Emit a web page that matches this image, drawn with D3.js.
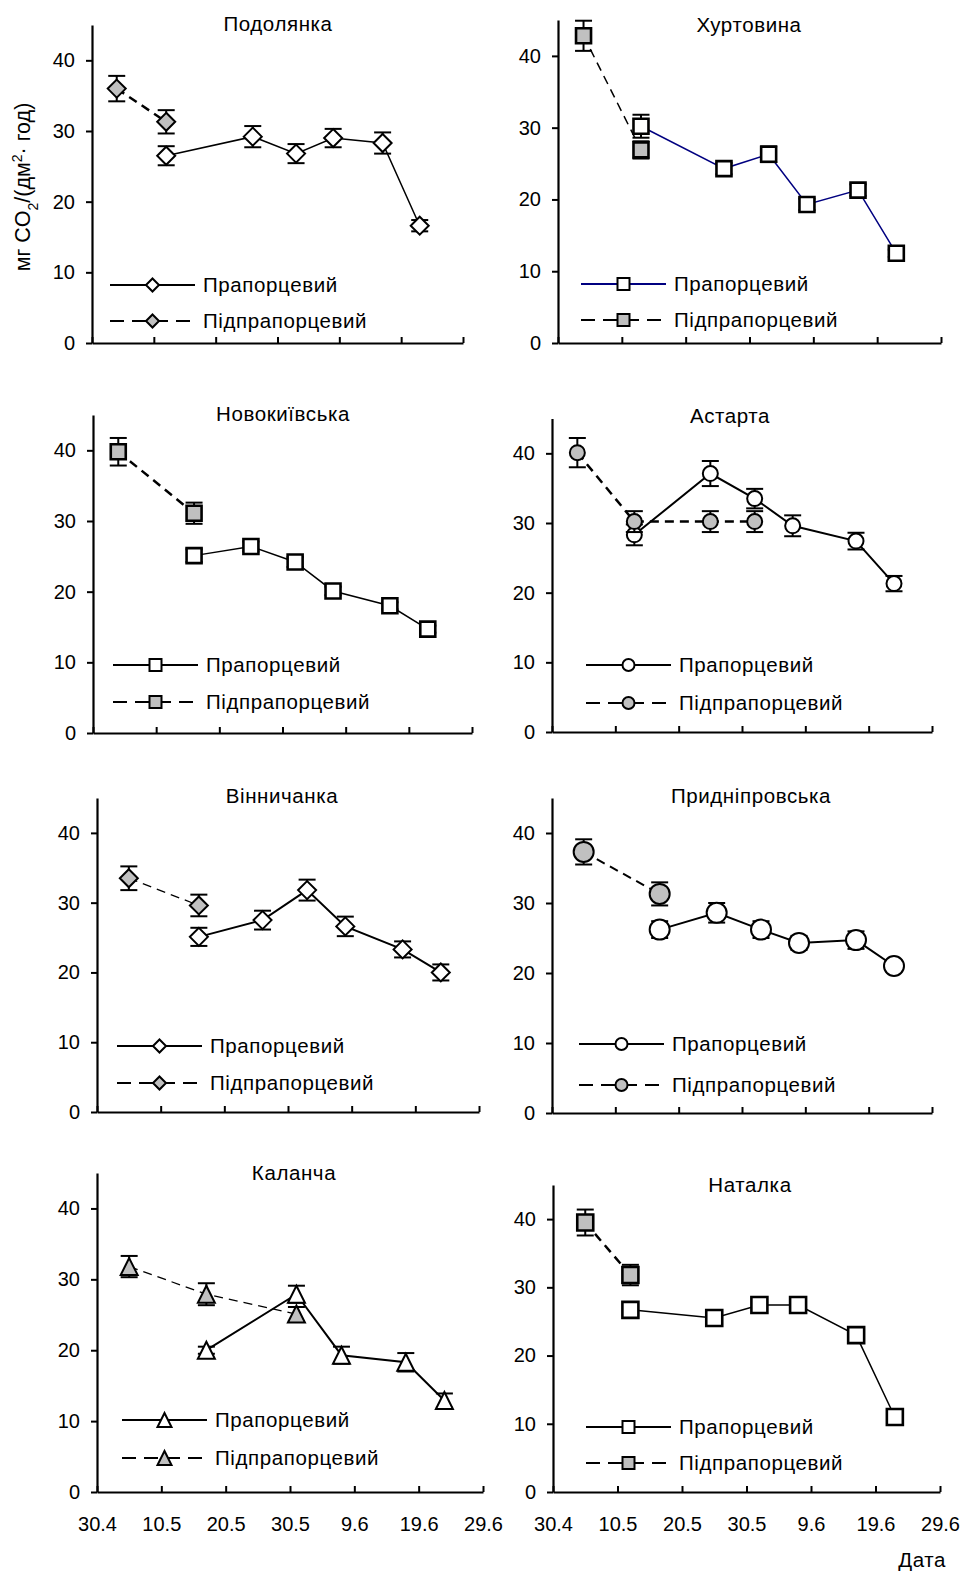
<!DOCTYPE html>
<html>
<head>
<meta charset="utf-8">
<script src="https://cdn.jsdelivr.net/npm/d3@7"></script>
<style>
  body { margin: 0; background: #fff; }
  text { font-family: "Liberation Sans", Arial, sans-serif; fill: #000; }
</style>
</head>
<body>
<script>
// ---- data ----
var tickDays = ["30.4", "10.5", "20.5", "30.5", "9.6", "19.6", "29.6"];
var yTicks = [0, 10, 20, 30, 40];
var varieties = ["Подолянка", "Хуртовина", "Новокиївська", "Астарта",
                 "Вінничанка", "Придніпровська", "Каланча", "Наталка"];
var seriesNames = ["Прапорцевий", "Підпрапорцевий"];

// Подолянка
var podFlagDates = ["12.5", "26.5", "2.6", "8.6", "16.6", "22.6"];
var podFlagValues = [26.5, 29.2, 26.8, 29.0, 28.3, 16.6];
var podFlagErrors = [1.35, 1.5, 1.35, 1.3, 1.5, 0.8];
var podSubDates = ["4.5", "12.5"];
var podSubValues = [36.0, 31.3];
var podSubErrors = [1.8, 1.65];

// Хуртовина
var khuFlagDates = ["13.5", "26.5", "2.6", "8.6", "16.6", "22.6"];
var khuFlagValues = [30.2, 24.3, 26.3, 19.3, 21.3, 12.5];
var khuFlagErrors = [1.6, 0.8, 1.1, 0.8, 0.8, 0.5];
var khuSubDates = ["4.5", "13.5"];
var khuSubValues = [42.8, 26.9];
var khuSubErrors = [2.1, 1.2];

// Новокиївська
var novFlagDates = ["16.5", "25.5", "1.6", "7.6", "16.6", "22.6"];
var novFlagValues = [25.1, 26.4, 24.2, 20.1, 18.0, 14.7];
var novFlagErrors = [0.9, 0.7, 0.7, 0.6, 0.5, 0.5];
var novSubDates = ["4.5", "16.5"];
var novSubValues = [39.8, 31.1];
var novSubErrors = [1.95, 1.5];

// Астарта
var astFlagDates = ["13.5", "25.5", "1.6", "7.6", "17.6", "23.6"];
var astFlagValues = [28.3, 37.1, 33.5, 29.6, 27.4, 21.3];
var astFlagErrors = [1.5, 1.8, 1.4, 1.5, 1.2, 1.1];
var astSubDates = ["4.5", "13.5", "25.5", "1.6"];
var astSubValues = [40.1, 30.2, 30.2, 30.2];
var astSubErrors = [2.1, 1.5, 1.5, 1.5];

// Вінничанка
var vinFlagDates = ["16.5", "26.5", "2.6", "8.6", "17.6", "23.6"];
var vinFlagValues = [25.1, 27.5, 31.8, 26.6, 23.3, 20.0];
var vinFlagErrors = [1.3, 1.35, 1.5, 1.4, 1.15, 1.15];
var vinSubDates = ["5.5", "16.5"];
var vinSubValues = [33.5, 29.6];
var vinSubErrors = [1.7, 1.55];

// Придніпровська
var priFlagDates = ["17.5", "26.5", "2.6", "8.6", "17.6", "23.6"];
var priFlagValues = [26.2, 28.6, 26.2, 24.3, 24.7, 21.0];
var priFlagErrors = [1.2, 1.4, 1.2, 1.0, 1.25, 0.8];
var priSubDates = ["5.5", "17.5"];
var priSubValues = [37.3, 31.3];
var priSubErrors = [1.8, 1.65];

// Каланча
var kalFlagDates = ["17.5", "31.5", "7.6", "17.6", "23.6"];
var kalFlagValues = [20.0, 27.9, 19.3, 18.3, 12.9];
var kalFlagErrors = [0.5, 1.2, 1.2, 1.3, 1.0];
var kalSubDates = ["5.5", "17.5", "31.5"];
var kalSubValues = [31.8, 27.9, 25.1];
var kalSubErrors = [1.5, 1.55, 1.0];

// Наталка
var natFlagDates = ["12.5", "25.5", "1.6", "7.6", "16.6", "22.6"];
var natFlagValues = [26.7, 25.5, 27.4, 27.4, 23.0, 11.0];
var natFlagErrors = [0.9, 0.8, 1.0, 1.0, 0.9, 0.6];
var natSubDates = ["5.5", "12.5"];
var natSubValues = [39.5, 31.8];
var natSubErrors = [1.9, 1.5];

var flagSeries = [
  [podFlagDates, podFlagValues, podFlagErrors],
  [khuFlagDates, khuFlagValues, khuFlagErrors],
  [novFlagDates, novFlagValues, novFlagErrors],
  [astFlagDates, astFlagValues, astFlagErrors],
  [vinFlagDates, vinFlagValues, vinFlagErrors],
  [priFlagDates, priFlagValues, priFlagErrors],
  [kalFlagDates, kalFlagValues, kalFlagErrors],
  [natFlagDates, natFlagValues, natFlagErrors]
];
var subSeries = [
  [podSubDates, podSubValues, podSubErrors],
  [khuSubDates, khuSubValues, khuSubErrors],
  [novSubDates, novSubValues, novSubErrors],
  [astSubDates, astSubValues, astSubErrors],
  [vinSubDates, vinSubValues, vinSubErrors],
  [priSubDates, priSubValues, priSubErrors],
  [kalSubDates, kalSubValues, kalSubErrors],
  [natSubDates, natSubValues, natSubErrors]
];

// ---- layout (plot frames, legends, marker styles) ----
var layout = [
  {left: 92, right: 463, top: 25, bottom: 343, tx: 278, ty: 31, lx: 110, ly: [285, 321], shape: "diamond", r: 9, lr: 6.5, color: "#000", sw: 1.5, dw: 2.5},
  {left: 558, right: 941, top: 20, bottom: 343, tx: 749, ty: 32, lx: 581, ly: [284, 320], shape: "square", r: 7.5, lr: 6, color: "#000080", sw: 1.5, dw: 1.5},
  {left: 93, right: 472, top: 415, bottom: 733, tx: 283, ty: 421, lx: 113, ly: [665, 702], shape: "square", r: 7.5, lr: 6, color: "#000", sw: 1.5, dw: 2.5},
  {left: 552, right: 932, top: 418.5, bottom: 732, tx: 730, ty: 423, lx: 586, ly: [665, 703], shape: "circle", r: 7.5, lr: 6, color: "#000", sw: 2, dw: 2.5},
  {left: 97, right: 479, top: 798, bottom: 1112, tx: 282, ty: 803, lx: 117, ly: [1046, 1083], shape: "diamond", r: 9, lr: 6.5, color: "#000", sw: 2, dw: 1.3},
  {left: 552, right: 932, top: 798, bottom: 1113, tx: 751, ty: 803, lx: 579, ly: [1044, 1085], shape: "circle", r: 10, lr: 6, color: "#000", sw: 2, dw: 2},
  {left: 97, right: 483, top: 1173, bottom: 1492, tx: 294, ty: 1180, lx: 122, ly: [1420, 1458], shape: "triangle", r: 8.5, lr: 7, color: "#000", sw: 2, dw: 1.3},
  {left: 553, right: 940, top: 1185, bottom: 1492, tx: 750, ty: 1192, lx: 586, ly: [1427, 1463], shape: "square", r: 8, lr: 6, color: "#000", sw: 1.5, dw: 2.5}
];

var parseDay = d3.timeParse("%d.%m");
var formatDay = d3.timeFormat("%-d.%-m");
var tickDates = tickDays.map(parseDay);

var svg = d3.select("body").append("svg")
  .attr("width", 965)
  .attr("height", 1574);

function markerPath(shape, r) {
  if (shape == "diamond") return "M0," + (-r) + "L" + r + ",0L0," + r + "L" + (-r) + ",0Z";
  if (shape == "square") return "M" + (-r) + "," + (-r) + "H" + r + "V" + r + "H" + (-r) + "Z";
  if (shape == "triangle") return "M0," + (-r) + "L" + r + "," + r + "H" + (-r) + "Z";
  return d3.symbol().type(d3.symbolCircle).size(Math.PI * r * r)();
}

function drawPanel(i) {
  var L = layout[i];
  var g = svg.append("g").attr("class", "panel");
  var mw = L.shape == "square" ? 2.6 : 2;   // square markers have a heavier edge

  var x = d3.scaleTime()
    .domain([tickDates[0], tickDates[tickDates.length - 1]])
    .range([L.left, L.right]);
  var y = d3.scaleLinear().domain([0, 45]).range([L.bottom, L.top]);

  // axes
  var yAxis = g.append("g")
    .attr("transform", "translate(" + L.left + ",0)")
    .call(d3.axisLeft(y).tickValues(yTicks).tickSize(6).tickPadding(11).tickSizeOuter(0));
  var xAxis = g.append("g")
    .attr("transform", "translate(0," + L.bottom + ")")
    .call(d3.axisBottom(x).tickValues(tickDates).tickFormat(formatDay)
      .tickSizeInner(-6).tickSizeOuter(0).tickPadding(25));
  [yAxis, xAxis].forEach(function(a) {
    a.select(".domain").attr("stroke", "#000").attr("stroke-width", 2.2);
    a.selectAll(".tick line").attr("stroke", "#000").attr("stroke-width", 2);
    a.selectAll("text").attr("font-size", 20).attr("font-family", null);
  });
  // x tick labels only in bottom row
  if (i < 6) xAxis.selectAll("text").remove();

  // title
  g.append("text")
    .attr("x", L.tx).attr("y", L.ty)
    .attr("text-anchor", "middle")
    .attr("font-size", 20.5)
    .style("letter-spacing", "0.6px")
    .text(varieties[i]);

  var line = d3.line().x(function(d) { return x(d.date); }).y(function(d) { return y(d.value); });

  var series = [
    {src: flagSeries[i], fill: "#fff", stroke: L.color, width: L.sw, dash: null},
    {src: subSeries[i], fill: "#c0c0c0", stroke: "#000", width: L.dw, dash: "9,6"}
  ];

  series.forEach(function(s) {
    var pts = s.src[0].map(function(dd, k) {
      return {date: parseDay(dd), value: s.src[1][k], err: s.src[2][k]};
    });
    var sg = g.append("g");
    sg.append("path")
      .datum(pts)
      .attr("d", line)
      .attr("fill", "none")
      .attr("stroke", s.stroke)
      .attr("stroke-width", s.width)
      .attr("stroke-dasharray", s.dash);

    // error bars
    var eb = sg.selectAll(".err").data(pts).enter().append("g").attr("class", "err");
    eb.append("line")
      .attr("x1", function(d) { return x(d.date); })
      .attr("x2", function(d) { return x(d.date); })
      .attr("y1", function(d) { return y(d.value - d.err); })
      .attr("y2", function(d) { return y(d.value + d.err); });
    eb.append("line")
      .attr("x1", function(d) { return x(d.date) - 8.5; })
      .attr("x2", function(d) { return x(d.date) + 8.5; })
      .attr("y1", function(d) { return y(d.value + d.err); })
      .attr("y2", function(d) { return y(d.value + d.err); });
    eb.append("line")
      .attr("x1", function(d) { return x(d.date) - 8.5; })
      .attr("x2", function(d) { return x(d.date) + 8.5; })
      .attr("y1", function(d) { return y(d.value - d.err); })
      .attr("y2", function(d) { return y(d.value - d.err); });
    eb.selectAll("line").attr("stroke", "#000").attr("stroke-width", 2);

    // markers
    sg.selectAll(".mk").data(pts).enter().append("path")
      .attr("class", "mk")
      .attr("transform", function(d) { return "translate(" + x(d.date) + "," + y(d.value) + ")"; })
      .attr("d", markerPath(L.shape, L.r))
      .attr("fill", s.fill)
      .attr("stroke", "#000")
      .attr("stroke-width", mw);
  });

  // legend
  series.forEach(function(s, k) {
    var ly = L.ly[k];
    var lg = g.append("g").attr("class", "legend");
    lg.append("line")
      .attr("x1", L.lx).attr("x2", L.lx + 85)
      .attr("y1", ly).attr("y2", ly)
      .attr("stroke", s.stroke)
      .attr("stroke-width", k == 0 ? 2 : 2.2)
      .attr("stroke-dasharray", k == 0 ? null : "14,8");
    lg.append("path")
      .attr("transform", "translate(" + (L.lx + 42.5) + "," + ly + ")")
      .attr("d", markerPath(L.shape, L.lr))
      .attr("fill", s.fill)
      .attr("stroke", "#000")
      .attr("stroke-width", 2);
    lg.append("text")
      .attr("x", L.lx + 93).attr("y", ly)
      .attr("dy", "0.35em")
      .attr("font-size", 20.5)
      .style("letter-spacing", "0.6px")
      .text(seriesNames[k]);
  });
}

for (var i = 0; i < layout.length; i++) drawPanel(i);

// y axis label of the first panel
var yl = svg.append("text")
  .attr("transform", "translate(30,187) rotate(-90)")
  .attr("text-anchor", "middle")
  .attr("font-size", 21.5);
yl.append("tspan").text("мг CO");
yl.append("tspan").attr("baseline-shift", "sub").attr("font-size", 14).text("2");
yl.append("tspan").text("/(дм");
yl.append("tspan").attr("baseline-shift", "super").attr("font-size", 14).text("2");
yl.append("tspan").text("· год)");

// x axis caption
svg.append("text")
  .attr("x", 946).attr("y", 1567)
  .attr("text-anchor", "end")
  .attr("font-size", 20.5)
  .style("letter-spacing", "0.6px")
  .text("Дата");
</script>
</body>
</html>
